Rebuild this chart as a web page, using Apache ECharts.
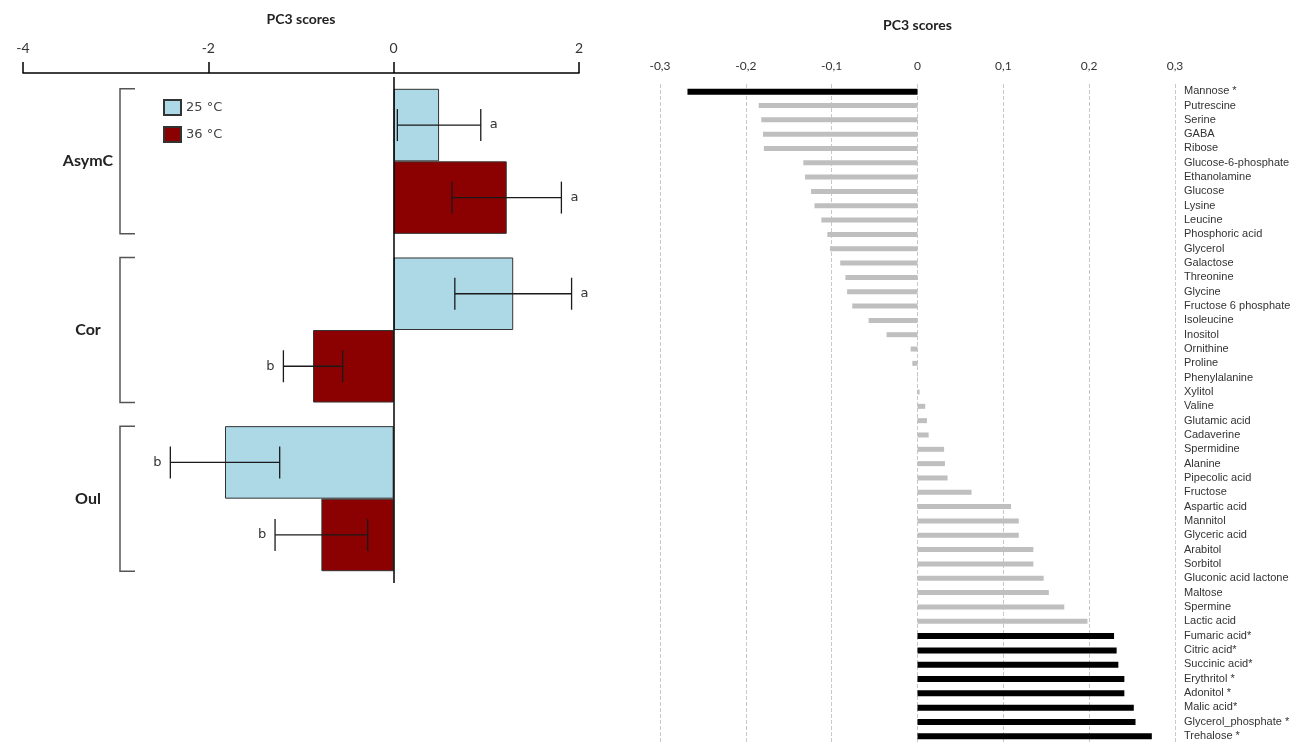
<!DOCTYPE html>
<html>
<head>
<meta charset="utf-8">
<script src="https://cdn.jsdelivr.net/npm/echarts@6/dist/echarts.min.js"></script>
<style>
html,body{margin:0;padding:0;background:#fff;}
#chart{width:1292px;height:742px;}
</style>
</head>
<body>
<div id="chart"></div>
<script>
// ---------- Left panel data ----------
const groups = ['AsymC', 'Cor', 'Oul'];
const temps = ['25 °C', '36 °C'];
const score25 = [0.49, 1.29, -1.82];
const score36 = [1.22, -0.87, -0.78];
const err25 = [0.45, 0.63, 0.59];
const err36 = [0.59, 0.32, 0.50];
const letters25 = ['a', 'a', 'b'];
const letters36 = ['a', 'b', 'b'];
const leftTicks = { min: -4, max: 2, interval: 2 };

// ---------- Right panel data ----------
const metabolites = ['Mannose *', 'Putrescine', 'Serine', 'GABA', 'Ribose', 'Glucose-6-phosphate', 'Ethanolamine', 'Glucose', 'Lysine', 'Leucine', 'Phosphoric acid', 'Glycerol', 'Galactose', 'Threonine', 'Glycine', 'Fructose 6 phosphate', 'Isoleucine', 'Inositol', 'Ornithine', 'Proline', 'Phenylalanine', 'Xylitol', 'Valine', 'Glutamic acid', 'Cadaverine', 'Spermidine', 'Alanine', 'Pipecolic acid', 'Fructose', 'Aspartic acid', 'Mannitol', 'Glyceric acid', 'Arabitol', 'Sorbitol', 'Gluconic acid lactone', 'Maltose', 'Spermine', 'Lactic acid', 'Fumaric acid*', 'Citric acid*', 'Succinic acid*', 'Erythritol *', 'Adonitol *', 'Malic acid*', 'Glycerol_phosphate *', 'Trehalose *'];
const loadings = [-0.268, -0.185, -0.182, -0.180, -0.179, -0.133, -0.131, -0.124, -0.120, -0.112, -0.105, -0.102, -0.090, -0.084, -0.082, -0.076, -0.057, -0.036, -0.008, -0.006, -0.0005, 0.0024, 0.009, 0.011, 0.013, 0.031, 0.032, 0.035, 0.063, 0.109, 0.118, 0.118, 0.135, 0.135, 0.147, 0.153, 0.171, 0.198, 0.229, 0.232, 0.234, 0.241, 0.241, 0.252, 0.254, 0.273];
const rightTicks = { min: -0.3, max: 0.3, interval: 0.1 };

const isSig = metabolites.map(n => n.indexOf('*') >= 0);
const sigVals = loadings.map((v, i) => isSig[i] ? v : null);
const otherVals = loadings.map((v, i) => isSig[i] ? null : v);

const CAT_GAP = 0.14;

function errorRender(sign, letters) {
  return function (params, api) {
    const mean = api.value(0), ci = api.value(1), e = api.value(2);
    const c = api.coord([mean, ci]);
    const band = api.size([0, 1])[1];
    const barH = band * (1 - CAT_GAP) / 2;
    const y = c[1] + sign * barH / 2;
    const lo = api.coord([mean - e, ci])[0];
    const hi = api.coord([mean + e, ci])[0];
    const cap = 16;
    const st = { stroke: '#1a1a1a', lineWidth: 1.3 };
    const tx = mean >= 0 ? hi + 13 : lo - 13;
    return {
      type: 'group',
      children: [
        { type: 'line', shape: { x1: lo, y1: y, x2: hi, y2: y }, style: st },
        { type: 'line', shape: { x1: lo, y1: y - cap, x2: lo, y2: y + cap }, style: st },
        { type: 'line', shape: { x1: hi, y1: y - cap, x2: hi, y2: y + cap }, style: st },
        { type: 'text', x: tx, y: y, style: { text: letters[params.dataIndex], fill: '#333', font: '13px "DejaVu Sans"', align: 'center', verticalAlign: 'middle' } }
      ]
    };
  };
}

function bracketRender(params, api) {
  const ci = api.value(1);
  const c = api.coord([0, ci]);
  const band = api.size([0, 1])[1];
  const half = band * (1 - CAT_GAP) / 2;
  const x = params.coordSys.x + 97;
  return {
    type: 'polyline',
    shape: { points: [[x + 15, c[1] - half], [x, c[1] - half], [x, c[1] + half], [x + 15, c[1] + half]] },
    style: { stroke: '#555', lineWidth: 1.5, fill: null }
  };
}

const chart = echarts.init(document.getElementById('chart'), null, { renderer: 'canvas' });
chart.setOption({
  backgroundColor: '#fff',
  animation: false,
  legend: {
    data: temps,
    orient: 'vertical',
    left: 158, top: 94,
    itemWidth: 17, itemHeight: 15, itemGap: 10,
    icon: 'rect',
    textStyle: { fontFamily: 'DejaVu Sans', fontSize: 13, color: '#444' }
  },
  grid: [
    { left: 23, right: 713, top: 77, height: 506, outerBoundsMode: 'none', containLabel: false },
    { left: 660, right: 117, top: 84, height: 659, outerBoundsMode: 'none', containLabel: false }
  ],
  xAxis: [
    {
      gridIndex: 0, type: 'value', position: 'top', offset: 4,
      min: leftTicks.min, max: leftTicks.max, interval: leftTicks.interval,
      name: 'PC3 scores', nameLocation: 'middle', nameGap: 47,
      nameTextStyle: { fontFamily: 'Lato', fontWeight: 'bold', fontSize: 14, color: '#222' },
      axisLine: { show: true, onZero: false, lineStyle: { color: '#000', width: 1.5 } },
      axisTick: { show: true, length: 11, lineStyle: { color: '#000', width: 1.5 } },
      axisLabel: { margin: 18, fontFamily: 'Lato', fontSize: 14, color: '#333' },
      splitLine: { show: false }
    },
    {
      gridIndex: 1, type: 'value', position: 'top',
      min: rightTicks.min, max: rightTicks.max, interval: rightTicks.interval,
      name: 'PC3 scores', nameLocation: 'middle', nameGap: 52,
      nameTextStyle: { fontFamily: 'Lato', fontWeight: 'bold', fontSize: 14, color: '#222' },
      axisLine: { show: false }, axisTick: { show: false },
      axisLabel: {
        margin: 12, fontFamily: 'Lato', fontSize: 12, color: '#333',
        formatter: v => (Math.abs(v) < 1e-9 ? '0' : String(Math.round(v * 10) / 10).replace('.', ','))
      },
      splitLine: { show: true, lineStyle: { color: '#c8c8c8', type: 'dashed', width: 1 } }
    }
  ],
  yAxis: [
    {
      gridIndex: 0, type: 'category', data: groups, inverse: true,
      axisLine: { show: false }, axisTick: { show: false },
      axisLabel: { inside: true, margin: 65, align: 'center', fontFamily: 'Lato', fontWeight: 'bold', fontSize: 16, color: '#222' }
    },
    {
      gridIndex: 1, type: 'category', data: metabolites, inverse: true, position: 'right',
      axisLine: { show: false }, axisTick: { show: false },
      axisLabel: { interval: 0, margin: 9, fontFamily: '"Liberation Sans Narrow", "Liberation Sans"', fontSize: 11, color: '#333' }
    }
  ],
  series: [
    {
      name: temps[0], type: 'bar', xAxisIndex: 0, yAxisIndex: 0,
      data: score25, barGap: '0%', barCategoryGap: (CAT_GAP * 100) + '%',
      itemStyle: { color: '#ADD8E6', borderColor: '#333', borderWidth: 1 },
      markLine: {
        silent: true, symbol: 'none', label: { show: false },
        lineStyle: { color: '#000', width: 1.5, type: 'solid' },
        data: [{ xAxis: 0 }]
      }
    },
    {
      name: temps[1], type: 'bar', xAxisIndex: 0, yAxisIndex: 0,
      data: score36, barGap: '0%', barCategoryGap: (CAT_GAP * 100) + '%',
      itemStyle: { color: '#8B0000', borderColor: '#333', borderWidth: 1 }
    },
    {
      name: 'err25', type: 'custom', xAxisIndex: 0, yAxisIndex: 0, z: 5,
      renderItem: errorRender(-1, letters25),
      encode: { x: 0, y: 1 },
      data: score25.map((v, i) => [v, i, err25[i]])
    },
    {
      name: 'err36', type: 'custom', xAxisIndex: 0, yAxisIndex: 0, z: 5,
      renderItem: errorRender(1, letters36),
      encode: { x: 0, y: 1 },
      data: score36.map((v, i) => [v, i, err36[i]])
    },
    {
      name: 'brackets', type: 'custom', xAxisIndex: 0, yAxisIndex: 0, z: 5,
      renderItem: bracketRender,
      encode: { x: 0, y: 1 },
      data: groups.map((g, i) => [0, i])
    },
    {
      name: 'sig', type: 'bar', xAxisIndex: 1, yAxisIndex: 1,
      data: sigVals, barWidth: 6, barGap: '-100%',
      itemStyle: { color: '#000' }
    },
    {
      name: 'other', type: 'bar', xAxisIndex: 1, yAxisIndex: 1,
      data: otherVals, barWidth: 5, barGap: '-100%',
      itemStyle: { color: '#bfbfbf' }
    }
  ]
});
</script>
</body>
</html>
